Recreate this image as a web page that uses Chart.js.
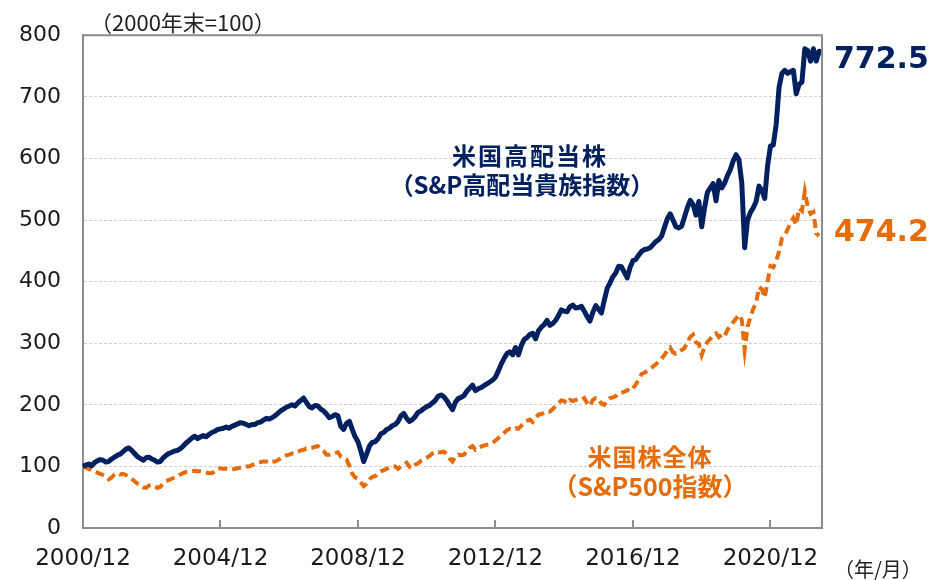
<!DOCTYPE html>
<html>
<head>
<meta charset="utf-8">
<script src="https://cdn.jsdelivr.net/npm/chart.js@4.4.1/dist/chart.umd.min.js"></script>
<style>
  body { margin: 0; background: #fff; }
  #wrap { position: relative; width: 932px; height: 580px; }
  .note { position: absolute; white-space: nowrap; line-height: 1; font-family: 'Noto Sans CJK JP', sans-serif; }
  .c { transform: translate(-50%, -50%); text-align: center; }
  .navy { color: #002060; font-weight: bold; }
  .orange { color: #E46C0A; font-weight: bold; }
  .big { font-family: 'DejaVu Sans', sans-serif; font-size: 30px; transform: translateY(-50%); }
</style>
</head>
<body>
<div id="wrap">
  <canvas id="chart" width="932" height="580"></canvas>
  <div class="note" style="left:90px;top:10px;font-size:22px;color:#222;">（2000年末=100）</div>
  <div class="note c navy" style="left:530px;top:155px;font-size:24px;letter-spacing:2px;">米国高配当株</div>
  <div class="note c navy" style="left:522px;top:184px;font-size:24px;">（S&amp;P高配当貴族指数）</div>
  <div class="note c orange" style="left:650px;top:456px;font-size:24px;letter-spacing:1px;">米国株全体</div>
  <div class="note c orange" style="left:650px;top:485px;font-size:25px;">（S&amp;P500指数）</div>
  <div class="note big navy" style="left:834px;top:58px;">772.5</div>
  <div class="note big orange" style="left:834px;top:231px;">474.2</div>
  <div class="note" style="left:834px;top:559px;font-size:20px;color:#222;">（年/月）</div>
</div>
<script>
(function(){
  // ---- Data (monthly, 2000/12 = 100)
  const startYear = 2000, startMonth = 12;

  const highDividend = [
    100,
    102,104,101,106,109,111,110,107,108,112,115,118, // 2001
    120,124,128,130,126,121,116,113,110,114,115,112, // 2002
    110,107,108,114,118,121,123,125,126,129,133,138, // 2003
    142,146,149,145,148,150,148,152,155,157,160,161, // 2004
    162,164,162,165,167,169,171,170,168,166,168,168, // 2005
    171,172,175,178,177,179,182,186,190,193,196,198, // 2006
    200,198,203,207,211,204,197,195,199,198,193,190, // 2007
    185,179,181,184,182,165,160,170,173,160,148,140, // 2008
    125,108,120,133,139,140,145,153,155,160,162,166, // 2009
    168,173,182,186,178,173,176,181,188,190,194,197, // 2010
    199,203,207,214,216,213,207,199,192,204,210,212, // 2011
    215,222,227,232,223,226,228,231,234,237,240,245, // 2012
    255,266,275,283,286,281,293,281,296,306,309,314, // 2013
    316,307,320,326,330,337,329,332,337,345,354,352, // 2014
    351,359,362,357,358,360,352,343,336,350,361,355, // 2015
    349,370,389,398,408,414,425,424,415,406,423,434, // 2016
    436,443,449,452,453,455,460,465,468,474,488,502, // 2017
    510,500,489,487,490,505,520,532,525,508,530,489, // 2018
    520,545,552,559,531,564,552,560,572,582,596,606, // 2019
    598,560,455,500,512,520,530,555,548,535,588,620, // 2020
    622,655,715,738,743,738,741,743,705,720,724,778, // 2021
    775,758,778,758,774,772.5                         // 2022
  ];

  const sp500 = [
    100,
    98,96,93,92,90,88,86,84,79,82,87,89,             // 2001
    87,88,86,84,80,76,72,70,66,65,69,70,             // 2002
    68,65,67,72,76,78,80,82,84,87,89,91,             // 2003
    92,92,93,92,92,91,90,89,89,92,96,97,             // 2004
    96,96,95,95,96,97,98,99,100,100,102,104,         // 2005
    106,107,108,108,106,108,108,110,113,116,118,119, // 2006
    121,121,124,126,127,129,129,130,132,133,128,125, // 2007
    119,119,121,122,123,116,113,111,101,88,82,80,    // 2008
    74,68,72,79,83,84,89,92,94,96,98,100,            // 2009
    100,96,100,103,106,99,97,103,105,109,112,114,    // 2010
    117,121,124,123,123,124,120,113,108,116,119,118, // 2011
    119,125,130,133,127,130,132,134,135,136,138,142, // 2012
    146,150,154,159,161,160,162,161,166,171,174,176, // 2013
    172,178,184,185,187,190,189,193,198,203,207,206, // 2014
    202,208,206,208,209,208,211,203,198,208,211,210, // 2015
    202,200,207,211,212,214,219,220,221,224,222,227, // 2016
    233,241,250,252,255,258,262,266,270,275,281,288, // 2017
    293,285,283,286,289,292,302,310,314,301,299,281, // 2018
    294,302,307,313,316,310,314,311,322,327,334,340, // 2019
    346,338,289,327,342,356,365,391,388,374,400,425, // 2020
    423,433,449,470,475,485,495,503,492,519,515,546, // 2021
    522,510,513,478,474.2                            // 2022
  ];

  const yTicks = [0,100,200,300,400,500,600,700,800];

  const months = highDividend.map((_, i) => {
    const m = startMonth - 1 + i;
    return (startYear + Math.floor(m / 12)) + '/' + String(m % 12 + 1).padStart(2, '0');
  });
  const shownTick = (lbl) => lbl.endsWith('/12') && (+lbl.slice(0,4)) % 4 === 0;

  // ---- Frame: top/right border + inward x ticks
  const frame = {
    id: 'frame',
    afterDraw(chart) {
      const { ctx, chartArea: a, scales: { x } } = chart;
      ctx.save();
      ctx.strokeStyle = '#8c8c8c';
      ctx.lineWidth = 2;
      ctx.beginPath();
      ctx.moveTo(a.left, a.top); ctx.lineTo(a.right, a.top); ctx.lineTo(a.right, a.bottom);
      x.ticks.forEach((t, i) => {
        if (!shownTick(months[t.value])) return;
        const px = Math.round(x.getPixelForTick(i));
        ctx.moveTo(px, a.bottom); ctx.lineTo(px, a.bottom - 8);
      });
      ctx.stroke();
      ctx.restore();
    }
  };

  const tickFont = { family: 'DejaVu Sans', size: 22 };

  new Chart(document.getElementById('chart'), {
    type: 'line',
    data: {
      labels: months,
      datasets: [
        { label: '米国高配当株（S&P高配当貴族指数）', data: highDividend, borderColor: '#002060',
          borderWidth: 5, pointRadius: 0, tension: 0, borderJoinStyle: 'round', order: 1 },
        { label: '米国株全体（S&P500指数）', data: sp500, borderColor: '#E46C0A',
          borderWidth: 4, borderDash: [9, 5], pointRadius: 0, tension: 0, order: 2 }
      ]
    },
    options: {
      responsive: false,
      animation: false,
      layout: { padding: { left: 0, right: 110, top: 35, bottom: 0 } },
      plugins: { legend: { display: false }, tooltip: { enabled: false } },
      scales: {
        x: {
          type: 'category',
          offset: false,
          afterFit: s => { s.height = 52; },
          grid: { display: false, drawTicks: false },
          border: { display: true, color: '#8c8c8c', width: 2 },
          ticks: {
            autoSkip: false, maxRotation: 0, minRotation: 0, padding: 17,
            color: '#1a1a1a', font: { family: 'DejaVu Sans', size: 23 },
            callback: function(v) { const l = this.getLabelForValue(v); return shownTick(l) ? l : null; }
          }
        },
        y: {
          min: yTicks[0], max: yTicks[yTicks.length - 1],
          afterFit: s => { s.width = 83; },
          afterBuildTicks: s => { s.ticks = yTicks.map(v => ({ value: v })); },
          grid: {
            drawTicks: false, lineWidth: 1,
            color: c => (c.tick.value === 0 || c.tick.value === 800) ? 'rgba(0,0,0,0)' : '#d0d0d0'
          },
          border: { display: true, color: '#8c8c8c', width: 2, dash: [3, 2] },
          ticks: { padding: 22, color: '#1a1a1a', font: tickFont }
        }
      }
    },
    plugins: [frame]
  });
})();
</script>
</body>
</html>
